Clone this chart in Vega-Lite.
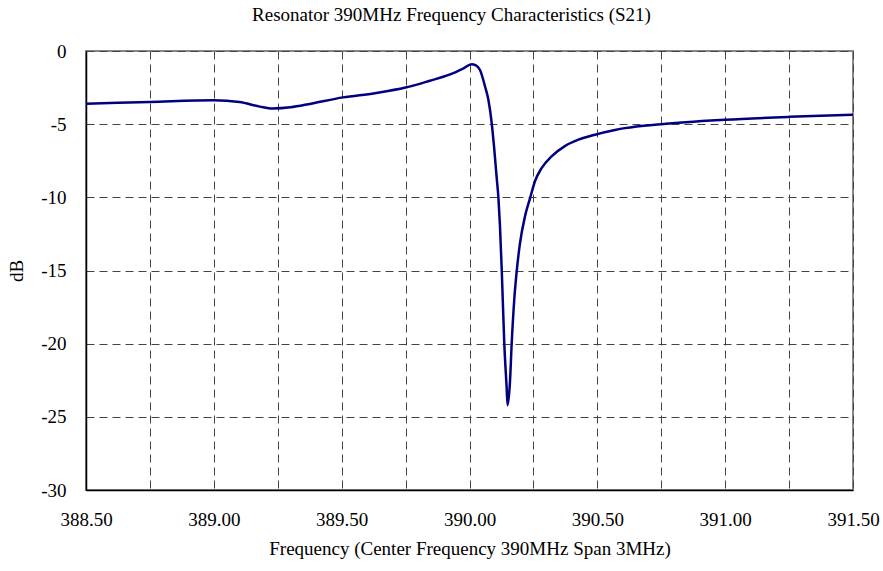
{
  "$schema": "https://vega.github.io/schema/vega-lite/v6.json",
  "width": 767,
  "height": 439,
  "autosize": "none",
  "padding": {"left": 86, "top": 51, "right": 30, "bottom": 81},
  "background": "white",
  "title": {
    "text": "Resonator 390MHz Frequency Characteristics (S21)",
    "font": "Liberation Serif",
    "fontSize": 19,
    "fontWeight": "normal",
    "color": "#000",
    "anchor": "middle",
    "dx": -18,
    "offset": 17
  },
  "config": {
    "view": {"stroke": "#888", "strokeWidth": 2},
    "axis": {
      "labelFont": "Liberation Serif",
      "titleFont": "Liberation Serif",
      "labelFontSize": 19,
      "titleFontSize": 19,
      "titleFontWeight": "normal",
      "labelColor": "#000",
      "titleColor": "#000",
      "gridColor": "#444",
      "gridDash": [8, 5],
      "gridWidth": 1,
      "gridOpacity": 1,
      "ticks": false,
      "labelFlush": false,
      "domainColor": "#000",
      "domainWidth": 1.5
    }
  },
  "data": {
    "values": [
      {"f": 388.5, "db": -3.6},
      {"f": 388.75, "db": -3.48},
      {"f": 389.0, "db": -3.36},
      {"f": 389.1, "db": -3.48},
      {"f": 389.18, "db": -3.8},
      {"f": 389.23, "db": -3.93},
      {"f": 389.3, "db": -3.85},
      {"f": 389.38, "db": -3.6},
      {"f": 389.505, "db": -3.17},
      {"f": 389.63, "db": -2.88},
      {"f": 389.75, "db": -2.5},
      {"f": 389.845, "db": -2.03},
      {"f": 389.924, "db": -1.6},
      {"f": 389.975, "db": -1.2},
      {"f": 390.008, "db": -0.91},
      {"f": 390.025, "db": -0.98},
      {"f": 390.041, "db": -1.3},
      {"f": 390.061, "db": -2.44},
      {"f": 390.074, "db": -3.35},
      {"f": 390.087, "db": -4.94},
      {"f": 390.096, "db": -6.54},
      {"f": 390.106, "db": -8.59},
      {"f": 390.113, "db": -10.0},
      {"f": 390.119, "db": -11.9},
      {"f": 390.126, "db": -14.9},
      {"f": 390.136, "db": -19.97},
      {"f": 390.145, "db": -22.9},
      {"f": 390.149, "db": -24.2},
      {"f": 390.158, "db": -22.7},
      {"f": 390.165, "db": -20.0},
      {"f": 390.175, "db": -17.0},
      {"f": 390.185, "db": -15.0},
      {"f": 390.197, "db": -13.2},
      {"f": 390.217, "db": -11.3},
      {"f": 390.237, "db": -10.05},
      {"f": 390.256, "db": -8.9},
      {"f": 390.282, "db": -8.0},
      {"f": 390.321, "db": -7.2},
      {"f": 390.373, "db": -6.5},
      {"f": 390.426, "db": -6.06},
      {"f": 390.491, "db": -5.72},
      {"f": 390.569, "db": -5.4},
      {"f": 390.608, "db": -5.27},
      {"f": 390.749, "db": -5.0},
      {"f": 390.999, "db": -4.7},
      {"f": 391.25, "db": -4.5},
      {"f": 391.5, "db": -4.35}
    ]
  },
  "mark": {"type": "line", "color": "#000080", "strokeWidth": 2.5, "interpolate": "monotone"},
  "encoding": {
    "x": {
      "field": "f",
      "type": "quantitative",
      "scale": {"domain": [388.5, 391.5], "nice": false, "zero": false},
      "axis": {
        "title": "Frequency (Center Frequency 390MHz Span 3MHz)",
        "values": [388.5, 388.75, 389, 389.25, 389.5, 389.75, 390, 390.25, 390.5, 390.75, 391, 391.25, 391.5],
        "labelExpr": "(datum.value * 4) % 2 == 0 ? format(datum.value, '.2f') : ''",
        "labelPadding": 20,
        "titlePadding": 10
      }
    },
    "y": {
      "field": "db",
      "type": "quantitative",
      "scale": {"domain": [-30, 0], "nice": false},
      "axis": {
        "title": "dB",
        "values": [-30, -25, -20, -15, -10, -5, 0],
        "labelExpr": "datum.value == 0 ? '0' : '-' + abs(datum.value)",
        "labelPadding": 20,
        "titlePadding": 14
      }
    }
  }
}
